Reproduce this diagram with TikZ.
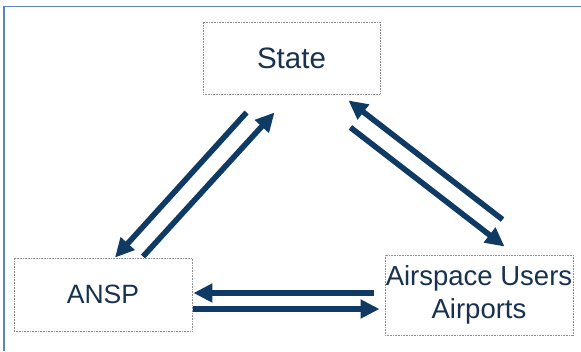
\documentclass[tikz,border=0pt]{standalone}
\usepackage{fontspec}
\setmainfont{Liberation Sans}
\usetikzlibrary{arrows.meta}
\definecolor{navy}{HTML}{0E3A63}
\definecolor{inktext}{HTML}{17314F}
\definecolor{framecol}{HTML}{5A86BC}
\definecolor{dotcol}{HTML}{8C8F96}
\tikzset{
  party/.style={draw=dotcol, line width=0.9pt, dash pattern=on 0.9pt off 0.7pt,
    text=inktext, inner sep=0pt, align=center},
  flow/.style={draw=navy, line width=5.6pt,
    -{Triangle[length=19pt,width=18pt]}, fill=navy},
}
\begin{document}
\begin{tikzpicture}[x=1pt,y=-1pt]
  \useasboundingbox (0,0) rectangle (581,351);
  \fill[white] (0,0) rectangle (581,351);
  % outer frame, open to the right and bottom
  \draw[framecol, line width=1.6pt] (4,351) -- (4,6.5) -- (581,6.5);

  % the three parties
  \node[party, minimum width=177pt, minimum height=72pt,
        font=\fontsize{29.5}{33}\selectfont] (state) at (291.5,58) {State};
  \node[party, minimum width=178pt, minimum height=73pt,
        font=\fontsize{26.5}{30}\selectfont] (ansp) at (103,294.5) {ANSP};
  \node[party, minimum width=188pt, minimum height=80pt,
        font=\fontsize{27.5}{32.5}\selectfont] (users) at (479,295)
        {Airspace Users\\Airports};

  % State <-> ANSP
  \draw[flow] ([shift={(44,18)}]state.south west) -- ([shift={(12,0)}]ansp.north);
  \draw[flow] ([shift={(40,-1)}]ansp.north) -- ([shift={(72,18)}]state.south west);
  % State <-> Airspace Users
  \draw[flow] ([shift={(118,-35)}]users.north west) -- ([shift={(-32,6)}]state.south east);
  \draw[flow] ([shift={(-30,33)}]state.south east) -- ([shift={(120,-8)}]users.north west);
  % ANSP <-> Airspace Users
  \draw[flow] ([shift={(-11,-2)}]users.west) -- ([shift={(1,-1.5)}]ansp.east);
  \draw[flow] ([shift={(1,14.5)}]ansp.east) -- ([shift={(-5,14)}]users.west);
\end{tikzpicture}
\end{document}
